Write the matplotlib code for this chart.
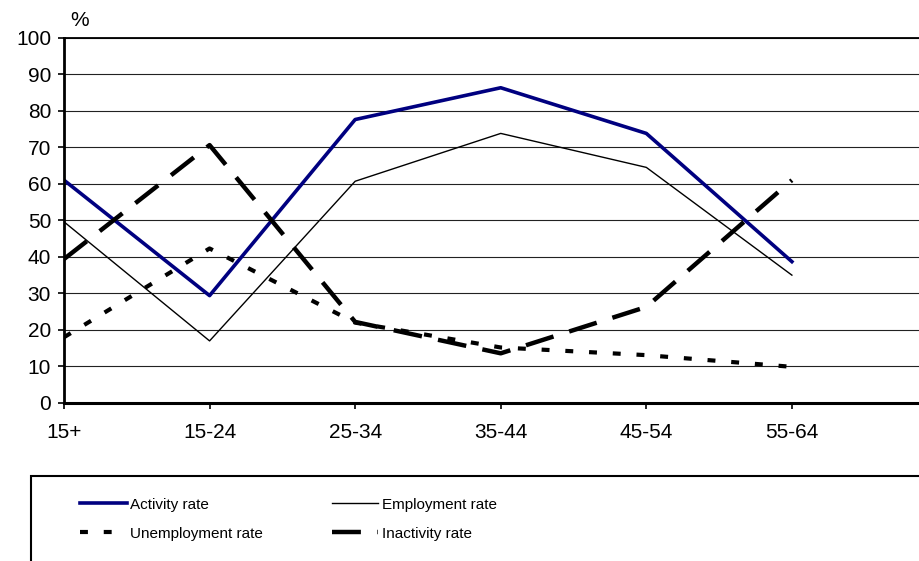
import numpy as np
import matplotlib.pyplot as plt
from matplotlib.patches import Rectangle

plt.rcParams['font.family'] = ['Liberation Sans', 'DejaVu Sans']

# data
groups = ['15+', '15-24', '25-34', '35-44', '45-54', '55-64']
activity = [61.0, 29.4, 77.6, 86.3, 73.8, 38.7]
employment = [49.6, 17.0, 60.7, 73.8, 64.5, 35.0]
unemployment = [18.0, 42.3, 22.0, 15.2, 13.1, 9.9]
inactivity = [39.4, 70.6, 22.2, 13.6, 26.3, 61.0]

W, H = 920, 561
fig = plt.figure(figsize=(W / 100, H / 100), dpi=100)
ax = fig.add_axes([64 / W, 1 - 403 / H, 1 - 64 / W, (403 - 37.7) / H])

x = np.arange(len(groups))
l1, = ax.plot(x, activity, color='#000080', lw=2.6, label='Activity rate')
l2, = ax.plot(x, employment, color='black', lw=1.0, label='Employment rate')
l3, = ax.plot(x, unemployment, color='black', lw=3.0, dashes=(1.9, 3.8),
              dash_capstyle='butt', label='Unemployment rate')
l4, = ax.plot(x, inactivity, color='black', lw=3.2, dashes=(6.5, 3.7),
              dash_capstyle='butt', label='Inactivity rate')

ax.set_xlim(0, 5.88)
ax.set_ylim(0, 100)
ax.set_yticks(range(0, 101, 10))
ax.set_xticks(x)
ax.set_xticklabels(groups)
ax.yaxis.grid(True, color='#222222', lw=0.8)
ax.set_axisbelow(True)
ax.spines['right'].set_visible(False)
ax.spines['top'].set_linewidth(1.3)
ax.spines['left'].set_linewidth(2.0)
ax.spines['bottom'].set_linewidth(2.2)
ax.tick_params(axis='both', labelsize=15, length=4.3, width=1.2, direction='out')
ax.tick_params(axis='y', pad=5)
ax.tick_params(axis='x', pad=10)
ax.text(70 / W, 1 - 21 / H, '%', transform=fig.transFigure, fontsize=15,
        ha='left', va='center')

# legend box, cut by the figure edge on the right and bottom
fig.add_artist(Rectangle((31 / W, -0.2), 1.5, 1 - 476 / H + 0.2,
                         transform=fig.transFigure, fill=False, lw=1.5,
                         edgecolor='black'))
fig.legend([l1, l3, l2, l4],
           ['Activity rate', 'Unemployment rate', 'Employment rate', 'Inactivity rate'],
           loc='upper left', bbox_to_anchor=(80 / W, 1 - 497.5 / H), ncol=2,
           frameon=False, fontsize=11,
           handlelength=3.07, handletextpad=0.2,
           columnspacing=4.5, labelspacing=1.0, borderaxespad=0,
           borderpad=0)

fig.savefig('out.png', dpi=100)
